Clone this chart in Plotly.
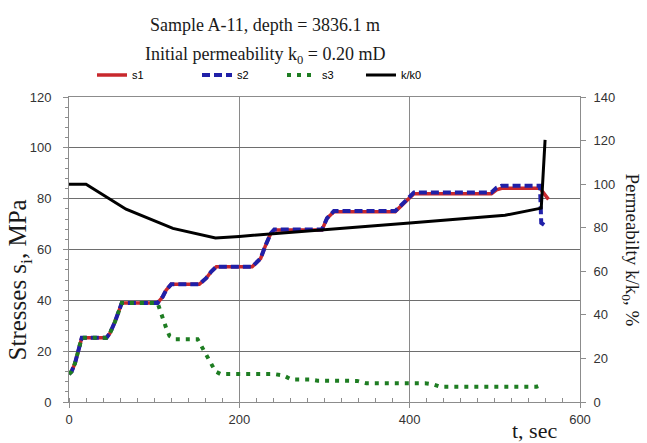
import plotly.graph_objects as go

# ---- data ----
t_s1 = [0, 3, 7, 11, 15, 44, 48, 54, 59, 62, 104, 110, 114, 120, 153, 161, 167, 173,
        215, 225, 231, 237, 241, 297, 303, 311, 383, 395, 405, 496, 502, 508, 553, 563]
s1 = [11, 12, 15.2, 19.8, 25.3, 25.3, 27, 31.6, 36.9, 39, 39, 41.4, 44, 46.3, 46.3, 48.7, 51.3, 53.2,
      53.2, 56.5, 61.8, 66.4, 67.7, 67.7, 72.3, 74.9, 74.9, 78.8, 81.9, 81.9, 83.5, 84.1, 84.1, 79.7]

t_s2 = [0, 3, 7, 11, 15, 44, 48, 54, 59, 62, 104, 110, 114, 120, 153, 161, 167, 173,
        215, 225, 231, 237, 241, 297, 303, 311, 383, 395, 405, 496, 502, 508, 553, 554.5, 561]
s2 = [11, 12, 15.2, 19.8, 25.3, 25.3, 27, 31.6, 36.9, 39, 39, 41.4, 44, 46.3, 46.3, 48.7, 51.3, 53.2,
      53.2, 56.5, 61.8, 66.4, 67.9, 67.9, 72.3, 75.1, 75.1, 79.0, 82.4, 82.4, 84.3, 85.1, 85.1, 70.5, 69.0]

t_s3 = [0, 3, 7, 11, 15, 44, 48, 54, 59, 62, 104, 110, 114, 118, 125, 151, 156, 162, 167, 172, 178,
        241, 252, 261, 282, 292, 338, 349, 418, 427, 436, 549, 557.5]
s3 = [11, 12, 15.2, 19.8, 25.3, 25.3, 27, 31.6, 36.9, 39, 39, 32.5, 29.2, 26, 24.7, 24.7, 21.8, 18.2, 15.2, 12, 11,
      11, 10.4, 8.9, 8.9, 8.4, 8.3, 7.4, 7.4, 7.0, 6.0, 6.0, 7.0]

t_k = [0, 20, 67, 122, 172, 200, 400, 512, 554.5, 559]
k_ratio = [100, 100, 88.5, 79.7, 75.3, 76, 82.2, 85.7, 89, 120.3]

x_ticks = [0, 200, 400, 600]
y_ticks = [0, 20, 40, 60, 80, 100, 120]
y2_ticks = [0, 20, 40, 60, 80, 100, 120, 140]

SERIF = "Liberation Serif, Times New Roman, serif"
SANS = "Liberation Sans, Arial, sans-serif"

fig = go.Figure()
fig.add_trace(go.Scatter(x=t_s1, y=s1, name="s1", mode="lines", legendwidth=60,
                         line=dict(color="#c8282d", width=3.5)))
fig.add_trace(go.Scatter(x=t_s2, y=s2, name="s2", mode="lines", legendwidth=40,
                         line=dict(color="#2020a8", width=4, dash="8px,4px")))
fig.add_trace(go.Scatter(x=t_s3, y=s3, name="s3", mode="lines", legendwidth=34,
                         line=dict(color="#1e7d22", width=4, dash="4px,6px")))
fig.add_trace(go.Scatter(x=t_k, y=k_ratio, name="k/k0", mode="lines", yaxis="y2", legendwidth=40,
                         line=dict(color="#000000", width=3)))

axis_common = dict(showline=True, linecolor="#8c8c8c", linewidth=1,
                   tickfont=dict(family=SANS, size=13, color="#333333"),
                   zeroline=False)

fig.update_layout(
    width=647, height=443,
    margin=dict(l=68.5, r=66.5, t=97, b=40.5, autoexpand=False),
    paper_bgcolor="white", plot_bgcolor="white",
    showlegend=True,
    legend=dict(orientation="h", x=0.045, y=1.072, xanchor="left", yanchor="middle",
                font=dict(family=SANS, size=11, color="#000000"),
                bgcolor="rgba(0,0,0,0)", itemclick=False),
    xaxis=dict(range=[0, 600], tickvals=x_ticks, ticks="outside", ticklen=5, tickcolor="#8c8c8c",
               showgrid=True, gridcolor="#8a8a8a", gridwidth=1, mirror=True,
               ticklabelstandoff=0,
               minor=dict(dtick=20, ticks="inside", ticklen=4, tickcolor="#8c8c8c", showgrid=False),
               **axis_common),
    yaxis=dict(range=[0, 120], tickvals=y_ticks, ticks="outside", ticklen=5, tickcolor="#8c8c8c",
               showgrid=True, gridcolor="#6e6e6e", gridwidth=1,
               ticklabelstandoff=9,
               minor=dict(dtick=4, ticks="outside", ticklen=3, tickcolor="#8c8c8c", showgrid=False),
               **axis_common),
    yaxis2=dict(range=[0, 140], tickvals=y2_ticks, overlaying="y", side="right",
                ticks="outside", ticklen=5, tickcolor="#8c8c8c", showgrid=False,
                ticklabelstandoff=5,
                **axis_common),
    annotations=[
        dict(text="Sample A-11, depth = 3836.1 m", xref="paper", yref="paper",
             x=0.384, y=1.235, xanchor="center", yanchor="middle", showarrow=False,
             font=dict(family=SERIF, size=18, color="#1a1a1a")),
        dict(text="Initial permeability k<sub>0</sub> = 0.20 mD", xref="paper", yref="paper",
             x=0.384, y=1.137, xanchor="center", yanchor="middle", showarrow=False,
             font=dict(family=SERIF, size=18, color="#1a1a1a")),
        dict(text="Stresses s<sub>i</sub>, MPa", xref="paper", yref="paper",
             x=-0.097, y=0.40, xanchor="center", yanchor="middle", showarrow=False,
             textangle=-90, font=dict(family=SERIF, size=25, color="#1a1a1a")),
        dict(text="Permeabilty k/k<sub>0</sub>, %", xref="paper", yref="paper",
             x=1.10, y=0.50, xanchor="center", yanchor="middle", showarrow=False,
             textangle=90, font=dict(family=SERIF, size=19, color="#1a1a1a")),
        dict(text="t, sec", xref="paper", yref="paper",
             x=0.911, y=-0.092, xanchor="center", yanchor="middle", showarrow=False,
             font=dict(family=SERIF, size=22, color="#1a1a1a")),
    ],
)

fig.write_html("out.html", post_script="document.body.style.margin='0px';",
               config={"displayModeBar": False})
